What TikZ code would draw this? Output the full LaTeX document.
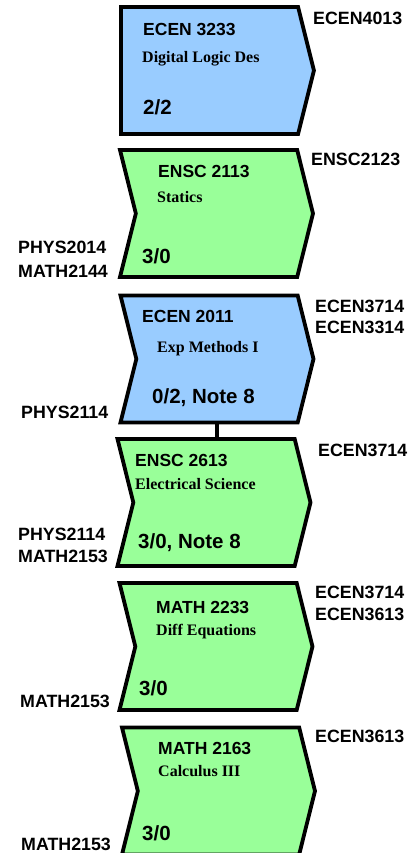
\documentclass[tikz,border=0pt]{standalone}
\usepackage{fontspec}
\setmainfont{Liberation Serif}
\setsansfont{Liberation Sans}
\usetikzlibrary{shapes.symbols}
\definecolor{labblue}{HTML}{99CCFF}
\definecolor{lecgreen}{HTML}{99FF99}
\tikzset{course/.style={signal,signal to=east,signal pointer angle=152,draw,line width=3.8pt,minimum width=193pt,minimum height=127pt,inner sep=0pt}}
\tikzset{notched/.style={course,signal from=west}}
\tikzset{code/.style={anchor=base west,inner sep=0pt,font=\sffamily\bfseries\fontsize{17.5}{20}\selectfont}}
\tikzset{title/.style={anchor=base west,inner sep=0pt,font=\rmfamily\bfseries\fontsize{16}{18}\selectfont}}
\tikzset{cred/.style={anchor=base west,inner sep=0pt,font=\sffamily\bfseries\fontsize{20.5}{23}\selectfont}}
\tikzset{req/.style={anchor=base west,inner sep=0pt,font=\sffamily\bfseries\fontsize{17.8}{20}\selectfont}}

\begin{document}
\begin{tikzpicture}[x=1pt,y=-1pt]
  \useasboundingbox (0,0) rectangle (409,853);
  \clip (0,0) rectangle (409,853);
  % course boxes
  \node[course,fill=labblue]   (e3233) at (209.5,70.5) {};
  \node[notched,fill=lecgreen] (s2113) at (216.5,213.5) {};
  \node[notched,fill=labblue]  (e2011) at (217,359) {};
  \node[notched,fill=lecgreen] (s2613) at (214,502.5) {};
  \node[notched,fill=lecgreen] (m2233) at (216,646.5) {};
  \node[notched,fill=lecgreen] (m2163) at (218.5,791) {};
  \draw[line width=3.8pt] (e2011.south) -- (e2011.south |- s2613.north);
  % ECEN 3233
  \node[code]  (e3233c) at (143,36) {ECEN 3233};
  \node[title] (e3233t) at (142,63) {Digital Logic Des};
  \node[cred]  (e3233h) at (143,115) {2/2};
  \node[req]   (e3233o) at (313,25) {ECEN4013};
  % ENSC 2113
  \node[code]  (s2113c) at (158,178) {ENSC 2113};
  \node[title] (s2113t) at (157,202) {Statics};
  \node[cred]  (s2113h) at (142,263) {3/0};
  \node[req]   (s2113o) at (311,165) {ENSC2123};
  \node[req]   (s2113p) at (18,253) {PHYS2014};
  \node[req]   (s2113q) at (18,277) {MATH2144};
  % ECEN 2011
  \node[code]  (e2011c) at (142,322) {ECEN 2011};
  \node[title] (e2011t) at (157,352) {Exp Methods I};
  \node[cred]  (e2011h) at (152,403) {0/2, Note 8};
  \node[req]   (e2011o) at (315,312) {ECEN3714};
  \node[req]   (e2011r) at (315,333) {ECEN3314};
  \node[req]   (e2011p) at (21,418) {PHYS2114};
  % ENSC 2613
  \node[code]  (s2613c) at (135,466) {ENSC 2613};
  \node[title] (s2613t) at (135,489) {Electrical Science};
  \node[cred]  (s2613h) at (138,548) {3/0, Note 8};
  \node[req]   (s2613o) at (318,456) {ECEN3714};
  \node[req]   (s2613p) at (18,540) {PHYS2114};
  \node[req]   (s2613q) at (18,562) {MATH2153};
  % MATH 2233
  \node[code]  (m2233c) at (156,613) {MATH 2233};
  \node[title] (m2233t) at (156,635) {Diff Equations};
  \node[cred]  (m2233h) at (139,695) {3/0};
  \node[req]   (m2233o) at (315,598) {ECEN3714};
  \node[req]   (m2233r) at (315,620) {ECEN3613};
  \node[req]   (m2233p) at (20,707) {MATH2153};
  % MATH 2163
  \node[code]  (m2163c) at (158,754) {MATH 2163};
  \node[title] (m2163t) at (158,776) {Calculus III};
  \node[cred]  (m2163h) at (142,840) {3/0};
  \node[req]   (m2163o) at (315,742) {ECEN3613};
  \node[req]   (m2163p) at (21,850) {MATH2153};
\end{tikzpicture}
\end{document}
